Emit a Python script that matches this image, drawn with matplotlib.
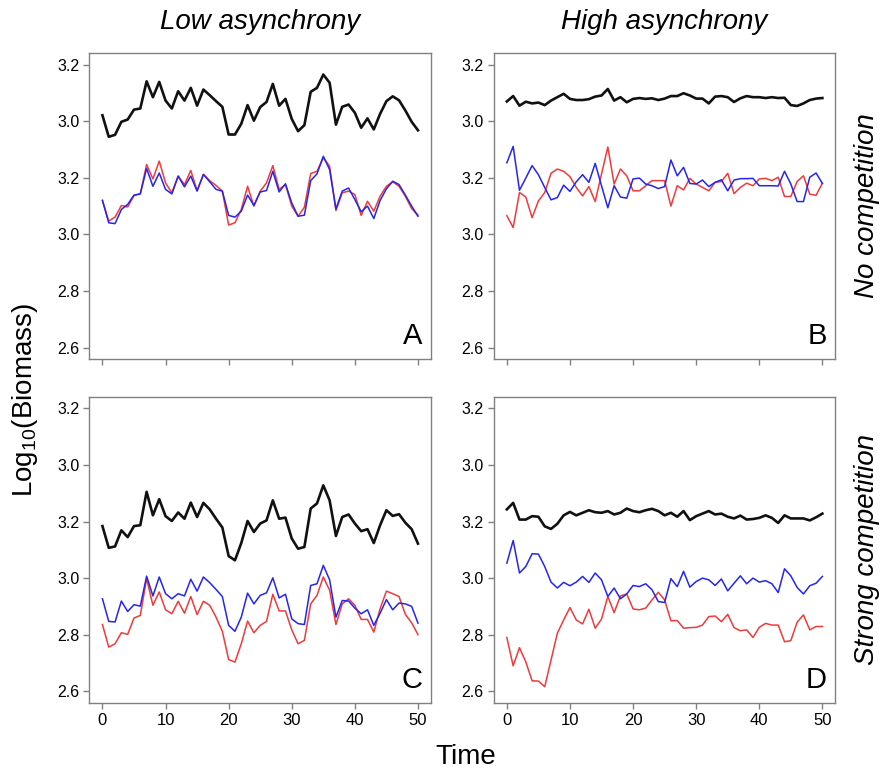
import numpy as np
import matplotlib
matplotlib.use("Agg")
import matplotlib.pyplot as plt

plt.rcParams['font.family'] = ['Liberation Sans', 'DejaVu Sans']

time = np.arange(51)

# total biomass (black) is read on the upper, broken scale; species on the lower one
total_A = [3.021, 2.945, 2.952, 2.998, 3.006, 3.041, 3.045, 3.141, 3.085, 3.139,
           3.073, 3.045, 3.106, 3.073, 3.118, 3.055, 3.112, 3.092, 3.071, 3.051,
           2.953, 2.953, 2.991, 3.057, 3.002, 3.050, 3.068, 3.132, 3.055, 3.079,
           3.008, 2.965, 2.986, 3.104, 3.118, 3.165, 3.136, 2.988, 3.051, 3.059,
           3.030, 2.977, 3.010, 2.971, 3.026, 3.071, 3.088, 3.074, 3.038, 2.998, 2.968]
red_A = [3.120, 3.047, 3.061, 3.102, 3.097, 3.137, 3.144, 3.247, 3.196, 3.259,
         3.182, 3.147, 3.206, 3.176, 3.226, 3.155, 3.212, 3.190, 3.173, 3.153,
         3.033, 3.041, 3.088, 3.170, 3.100, 3.153, 3.182, 3.243, 3.159, 3.176,
         3.100, 3.064, 3.096, 3.215, 3.223, 3.271, 3.241, 3.084, 3.147, 3.153,
         3.141, 3.067, 3.117, 3.082, 3.135, 3.170, 3.186, 3.170, 3.135, 3.091, 3.068]
blue_A = [3.120, 3.041, 3.038, 3.088, 3.106, 3.139, 3.143, 3.233, 3.170, 3.217,
          3.159, 3.143, 3.206, 3.168, 3.206, 3.153, 3.212, 3.186, 3.159, 3.153,
          3.067, 3.061, 3.082, 3.139, 3.102, 3.150, 3.155, 3.223, 3.150, 3.179,
          3.111, 3.064, 3.068, 3.190, 3.214, 3.276, 3.229, 3.090, 3.153, 3.164,
          3.123, 3.080, 3.100, 3.056, 3.120, 3.161, 3.188, 3.176, 3.139, 3.100, 3.064]

total_B = [3.070, 3.089, 3.055, 3.069, 3.063, 3.066, 3.057, 3.073, 3.085, 3.097,
           3.079, 3.075, 3.075, 3.078, 3.087, 3.091, 3.114, 3.073, 3.085, 3.067,
           3.079, 3.082, 3.079, 3.081, 3.075, 3.080, 3.089, 3.089, 3.099, 3.091,
           3.080, 3.080, 3.063, 3.087, 3.089, 3.085, 3.068, 3.081, 3.089, 3.085,
           3.085, 3.082, 3.085, 3.082, 3.083, 3.057, 3.054, 3.063, 3.075, 3.080, 3.082]
red_B = [3.066, 3.024, 3.148, 3.132, 3.059, 3.118, 3.148, 3.216, 3.231, 3.223,
         3.204, 3.166, 3.136, 3.169, 3.116, 3.213, 3.309, 3.178, 3.231, 3.207,
         3.154, 3.154, 3.172, 3.190, 3.190, 3.190, 3.100, 3.172, 3.157, 3.198,
         3.178, 3.166, 3.154, 3.184, 3.187, 3.216, 3.144, 3.166, 3.181, 3.172,
         3.196, 3.198, 3.190, 3.202, 3.134, 3.134, 3.187, 3.207, 3.142, 3.138, 3.181]
blue_B = [3.253, 3.311, 3.156, 3.199, 3.243, 3.211, 3.166, 3.122, 3.130, 3.174,
          3.152, 3.186, 3.211, 3.184, 3.251, 3.172, 3.094, 3.172, 3.132, 3.128,
          3.196, 3.199, 3.178, 3.172, 3.162, 3.169, 3.263, 3.207, 3.237, 3.180,
          3.178, 3.192, 3.169, 3.184, 3.193, 3.154, 3.192, 3.197, 3.197, 3.198,
          3.172, 3.172, 3.172, 3.171, 3.223, 3.178, 3.116, 3.116, 3.202, 3.217, 3.180]

total_C = [2.784, 2.707, 2.712, 2.769, 2.745, 2.784, 2.787, 2.905, 2.822, 2.879,
           2.819, 2.802, 2.832, 2.810, 2.867, 2.816, 2.866, 2.843, 2.810, 2.779,
           2.678, 2.663, 2.724, 2.802, 2.763, 2.793, 2.804, 2.875, 2.810, 2.814,
           2.740, 2.704, 2.710, 2.846, 2.864, 2.928, 2.875, 2.749, 2.816, 2.825,
           2.793, 2.766, 2.773, 2.724, 2.787, 2.840, 2.820, 2.826, 2.796, 2.773, 2.722]
red_C = [2.836, 2.756, 2.768, 2.807, 2.801, 2.859, 2.868, 2.998, 2.904, 2.951,
         2.888, 2.874, 2.918, 2.876, 2.935, 2.871, 2.918, 2.904, 2.862, 2.812,
         2.712, 2.703, 2.768, 2.848, 2.807, 2.833, 2.847, 2.943, 2.884, 2.884,
         2.817, 2.768, 2.780, 2.909, 2.939, 3.004, 2.957, 2.836, 2.909, 2.927,
         2.904, 2.854, 2.854, 2.809, 2.892, 2.954, 2.945, 2.935, 2.872, 2.842, 2.800]
blue_C = [2.927, 2.847, 2.845, 2.919, 2.882, 2.906, 2.901, 3.007, 2.937, 3.004,
          2.945, 2.927, 2.945, 2.937, 2.996, 2.954, 3.004, 2.984, 2.960, 2.935,
          2.833, 2.812, 2.862, 2.947, 2.909, 2.939, 2.948, 3.001, 2.930, 2.943,
          2.856, 2.839, 2.836, 2.974, 2.980, 3.045, 2.994, 2.862, 2.921, 2.919,
          2.894, 2.874, 2.888, 2.833, 2.876, 2.924, 2.888, 2.912, 2.909, 2.900, 2.841]

total_D = [2.843, 2.866, 2.807, 2.807, 2.819, 2.817, 2.783, 2.774, 2.792, 2.822,
           2.834, 2.822, 2.831, 2.840, 2.833, 2.831, 2.837, 2.825, 2.831, 2.846,
           2.837, 2.833, 2.840, 2.845, 2.837, 2.822, 2.831, 2.817, 2.837, 2.805,
           2.819, 2.828, 2.837, 2.825, 2.828, 2.817, 2.811, 2.821, 2.807, 2.809,
           2.813, 2.822, 2.813, 2.795, 2.822, 2.811, 2.811, 2.811, 2.804, 2.815, 2.828]
red_D = [2.790, 2.690, 2.754, 2.704, 2.637, 2.636, 2.616, 2.710, 2.805, 2.852,
         2.896, 2.852, 2.838, 2.890, 2.823, 2.855, 2.935, 2.878, 2.937, 2.944,
         2.891, 2.888, 2.894, 2.923, 2.950, 2.923, 2.849, 2.850, 2.823, 2.825,
         2.826, 2.834, 2.864, 2.866, 2.846, 2.872, 2.825, 2.814, 2.817, 2.790,
         2.826, 2.840, 2.834, 2.834, 2.775, 2.779, 2.844, 2.870, 2.817, 2.829, 2.829]
blue_D = [3.053, 3.133, 3.018, 3.041, 3.086, 3.085, 3.041, 2.986, 2.965, 2.985,
          2.973, 2.986, 3.006, 2.985, 3.018, 2.994, 2.935, 2.965, 2.927, 2.944,
          2.974, 2.970, 2.980, 2.959, 2.917, 2.914, 2.998, 2.970, 3.024, 2.968,
          2.988, 3.000, 2.994, 2.974, 2.997, 2.955, 2.982, 3.008, 2.980, 3.000,
          2.986, 2.991, 2.980, 2.949, 3.033, 3.008, 2.967, 2.944, 2.973, 2.982, 3.006]

col_titles = ['Low asynchrony', 'High asynchrony']
row_titles = ['No competition', 'Strong competition']
panel_letters = ['A', 'B', 'C', 'D']
ytick_pos = [2.6, 2.8, 3.0, 3.2, 3.4, 3.6]
ytick_labels = ['2.6', '2.8', '3.0', '3.2', '3.0', '3.2']
OFFSET = 0.4  # shift of the upper (total) scale

panels = [(total_A, red_A, blue_A), (total_B, red_B, blue_B),
          (total_C, red_C, blue_C), (total_D, red_D, blue_D)]

fig = plt.figure(figsize=(8.83, 7.69), dpi=100)
lefts = [0.101, 0.559]
bottoms = [0.533, 0.086]
w, h = 0.387, 0.398

grey = '#808080'
narrow = ['Liberation Sans Narrow', 'Liberation Sans']

for i, (tot, red, blue) in enumerate(panels):
    r, c = divmod(i, 2)
    ax = fig.add_axes([lefts[c], bottoms[r], w, h])
    ax.plot(time, np.array(tot) + OFFSET, color='#111111', lw=1.9)
    ax.plot(time, red, color='#ee3b3b', lw=1.1)
    ax.plot(time, blue, color='#2525ee', lw=1.1)
    ax.set_xlim(-2.1, 52.05)
    ax.set_ylim(2.559, 3.641)
    ax.set_yticks(ytick_pos)
    ax.set_yticklabels(ytick_labels, fontsize=11.5)
    ax.set_xticks(np.arange(0, 51, 10))
    if r == 1:
        ax.set_xticklabels([str(v) for v in range(0, 51, 10)], fontsize=12,
                           family=narrow)
    else:
        ax.set_xticklabels([])
    for s in ax.spines.values():
        s.set_color(grey)
        s.set_linewidth(1.0)
    ax.tick_params(color=grey, length=4, width=1.0, direction='out', pad=3)
    ax.text(0.975, 0.03, panel_letters[i], transform=ax.transAxes,
            ha='right', va='bottom', fontsize=21)

for c, t in enumerate(col_titles):
    fig.text(lefts[c] + w / 2, 0.972, t, ha='center', va='center',
             fontsize=20, style='italic')
for r, t in enumerate(row_titles):
    fig.text(0.982, bottoms[r] + h / 2, t, ha='center', va='center',
             rotation=90, fontsize=20, style='italic')

fig.text(0.028, 0.48, r'Log$_{\mathregular{10}}$(Biomass)', rotation=90,
         ha='center', va='center', fontsize=20)
fig.text(0.527, 0.016, 'Time', ha='center', va='center', fontsize=20,
         family=narrow)

fig.savefig('out.png', dpi=100)
